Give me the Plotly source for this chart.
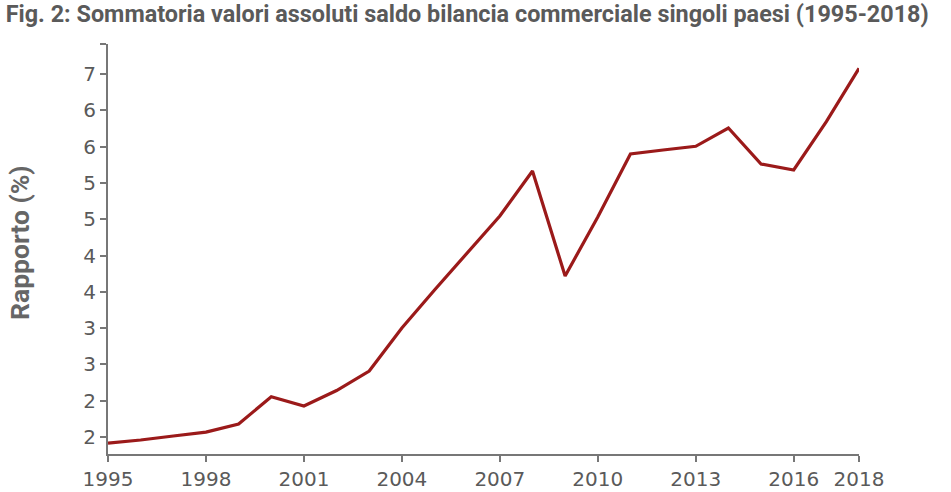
import plotly.graph_objects as go

years = list(range(1995, 2019))
values = [1.417, 1.459, 1.514, 1.567, 1.679, 2.055, 1.927, 2.140, 2.409, 3.001,
          3.525, 4.034, 4.544, 5.164, 3.718, 4.530, 5.398, 5.453, 5.504, 5.756,
          5.260, 5.178, 5.845, 6.578]

x_tickvals = [1995, 1998, 2001, 2004, 2007, 2010, 2013, 2016, 2018]
x_ticktext = ["1995", "1998", "2001", "2004", "2007", "2010", "2013", "2016", "2018"]
y_tickvals = [1.5, 2, 2.5, 3, 3.5, 4, 4.5, 5, 5.5, 6, 6.5, 6.913]
y_ticktext = ["2", "2", "3", "3", "4", "4", "5", "5", "6", "6", "7", ""]

title_text = "Fig. 2: Sommatoria valori assoluti saldo bilancia commerciale singoli paesi (1995-2018)"
y_title = "Rapporto (%)"

axis_color = "#777777"
text_color = "#5a5a5a"

fig = go.Figure()
fig.add_trace(go.Scatter(x=years, y=values, mode="lines",
                         line=dict(color="#9b1a1a", width=3.2), hoverinfo="skip"))

fig.update_layout(
    width=951, height=492,
    margin=dict(l=108, r=92, t=44, b=38, autoexpand=False),
    paper_bgcolor="white", plot_bgcolor="white",
    showlegend=False,
    title=dict(text="<b>" + title_text + "</b>", x=0.006, xanchor="left", xref="container",
               y=0.971, yanchor="middle", yref="container",
               font=dict(family="Roboto", size=23.4, color=text_color)),
    annotations=[dict(text="<b>" + y_title + "</b>", textangle=-90, xref="paper", yref="paper",
                      x=-0.117, y=0.515, xanchor="center", yanchor="middle", showarrow=False,
                      font=dict(family="Roboto", size=26.5, color="#666666"))],
)
fig.update_xaxes(range=[1995, 2018], tickvals=x_tickvals, ticktext=x_ticktext, automargin=False,
                 showgrid=False, zeroline=False, showline=True, linecolor=axis_color, linewidth=2,
                 ticks="outside", ticklen=6, tickwidth=2, tickcolor=axis_color,
                 tickfont=dict(family="DejaVu Sans", size=20, color=text_color))
fig.update_yaxes(range=[1.266, 6.913], tickvals=y_tickvals, ticktext=y_ticktext, automargin=False,
                 showgrid=False, zeroline=False, showline=True, linecolor=axis_color, linewidth=2,
                 ticks="outside", ticklen=6, tickwidth=2, tickcolor=axis_color,
                 tickfont=dict(family="DejaVu Sans", size=20, color=text_color))

fig.write_html("out.html")
